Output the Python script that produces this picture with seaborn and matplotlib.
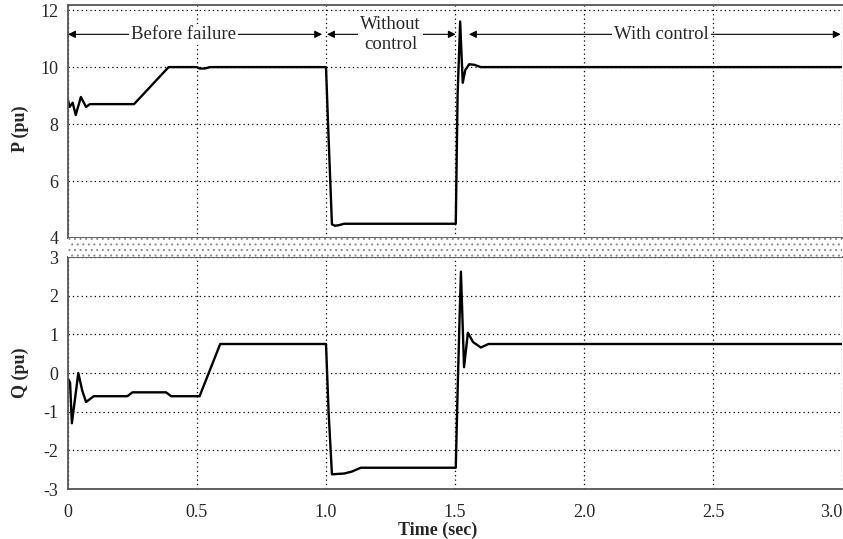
import numpy as np
import pandas as pd
import matplotlib
matplotlib.use("Agg")
import matplotlib.pyplot as plt
from matplotlib.patches import Rectangle
import seaborn as sns

# ---- data ----
p_time = [0.0, 0.006, 0.018, 0.03, 0.05, 0.07, 0.085, 0.256, 0.39, 0.50, 0.51, 0.53, 0.55,
          1.0, 1.008, 1.023, 1.035, 1.05, 1.07, 1.503, 1.51, 1.52, 1.525, 1.53, 1.54,
          1.555, 1.575, 1.60, 3.0]
p_vals = [8.85, 8.6, 8.75, 8.32, 8.95, 8.6, 8.7, 8.7, 10.0, 10.0, 9.95, 9.95, 10.0,
          10.0, 8.0, 4.48, 4.43, 4.45, 4.5, 4.5, 9.0, 11.6, 10.5, 9.45, 9.9,
          10.1, 10.08, 10.0, 10.0]

q_time = [0.0, 0.008, 0.015, 0.04, 0.055, 0.07, 0.10, 0.23, 0.25, 0.38, 0.40, 0.51, 0.59,
          1.0, 1.01, 1.023, 1.07, 1.10, 1.135, 1.503, 1.51, 1.518, 1.523, 1.535, 1.55,
          1.57, 1.60, 1.63, 3.0]
q_vals = [-0.15, -0.25, -1.3, 0.0, -0.45, -0.75, -0.6, -0.6, -0.5, -0.5, -0.6, -0.6, 0.75,
          0.75, -1.0, -2.62, -2.6, -2.55, -2.45, -2.45, -0.5, 1.5, 2.62, 0.15, 1.04,
          0.8, 0.66, 0.75, 0.75]

x_ticks = [0, 0.5, 1.0, 1.5, 2.0, 2.5, 3.0]
x_tick_labels = ["0", "0.5", "1.0", "1.5", "2.0", "2.5", "3.0"]
p_ticks = [4, 6, 8, 10, 12]
q_ticks = [-3, -2, -1, 0, 1, 2, 3]

df_p = pd.DataFrame({"Time": p_time, "P": p_vals})
df_q = pd.DataFrame({"Time": q_time, "Q": q_vals})

# ---- style ----
sns.set_theme(style="white")
plt.rcParams["font.family"] = ["Liberation Serif", "DejaVu Serif"]
plt.rcParams["font.size"] = 13
plt.rcParams["axes.unicode_minus"] = False
plt.rcParams["hatch.linewidth"] = 0.7

fig = plt.figure(figsize=(8.43, 5.39), dpi=100)
W, H = 843.0, 539.0
left = 68 / W
width = (842 - 68) / W
ax1 = fig.add_axes([left, 1 - 238 / H, width, (238 - 5) / H])
ax2 = fig.add_axes([left, 1 - 489 / H, width, (489 - 257) / H])

# separator band
fig.patches.append(Rectangle((left, 1 - 257 / H), width, 19 / H, transform=fig.transFigure,
                             facecolor="white", edgecolor="#888888", hatch="...", lw=0,
                             zorder=0))

sns.lineplot(data=df_p, x="Time", y="P", ax=ax1, color="black", lw=1.7,
             sort=False, estimator=None)
sns.lineplot(data=df_q, x="Time", y="Q", ax=ax2, color="black", lw=1.7,
             sort=False, estimator=None)

for ax, ticks in ((ax1, p_ticks), (ax2, q_ticks)):
    ax.set_xlim(0, 3.0)
    ax.set_xticks(x_ticks)
    ax.set_yticks(ticks)
    ax.grid(True, ls=(0, (1, 2.5)), color="black", lw=0.9)
    ax.tick_params(direction="in", length=5, width=1, color="#333333",
                   labelsize=13, pad=7)
    for s in ("left", "top", "bottom"):
        ax.spines[s].set_color("#555555")
        ax.spines[s].set_linewidth(1.3)
    ax.spines["right"].set_visible(False)

ax1.set_ylim(4, 12.18)
ax2.set_ylim(-3, 3)
ax1.set_xticklabels([])
ax1.set_xlabel("")
ax2.set_xticklabels(x_tick_labels)
ax2.tick_params(axis="x", pad=11)
ax2.get_xticklabels()[-1].set_horizontalalignment("right")

ax1.set_ylabel("P (pu)", fontweight="bold", fontsize=13)
ax2.set_ylabel("Q (pu)", fontweight="bold", fontsize=13)
ax1.yaxis.set_label_coords(-0.05, 0.47)
ax2.yaxis.set_label_coords(-0.05, 0.5)
ax2.set_xlabel("Time (sec)", fontweight="bold", fontsize=13)
ax2.xaxis.set_label_coords(0.477, -0.14)

# annotations
arrow_kw = dict(arrowstyle="<|-|>", color="black", lw=0.8, mutation_scale=11,
                shrinkA=0, shrinkB=0)
ya = 11.15
ax1.annotate("", xy=(0.0, ya), xytext=(0.985, ya), arrowprops=arrow_kw, zorder=5)
ax1.text(0.446, ya, "Before failure", ha="center", va="center", fontsize=13.5,
         bbox=dict(facecolor="white", edgecolor="none", pad=1.5), zorder=6)

ax1.annotate("", xy=(1.004, ya), xytext=(1.503, ya), arrowprops=arrow_kw, zorder=5)
ax1.text(1.25, 11.15, "Without\ncontrol", ha="center", va="center", fontsize=13.5,
         linespacing=1.2, bbox=dict(facecolor="white", edgecolor="none", pad=1.5), zorder=6)

ax1.annotate("", xy=(1.554, ya), xytext=(2.995, ya), arrowprops=arrow_kw, zorder=5)
ax1.text(2.30, ya, "With control", ha="center", va="center", fontsize=13.5,
         bbox=dict(facecolor="white", edgecolor="none", pad=1.5), zorder=6)

fig.savefig("out.png", dpi=100)
